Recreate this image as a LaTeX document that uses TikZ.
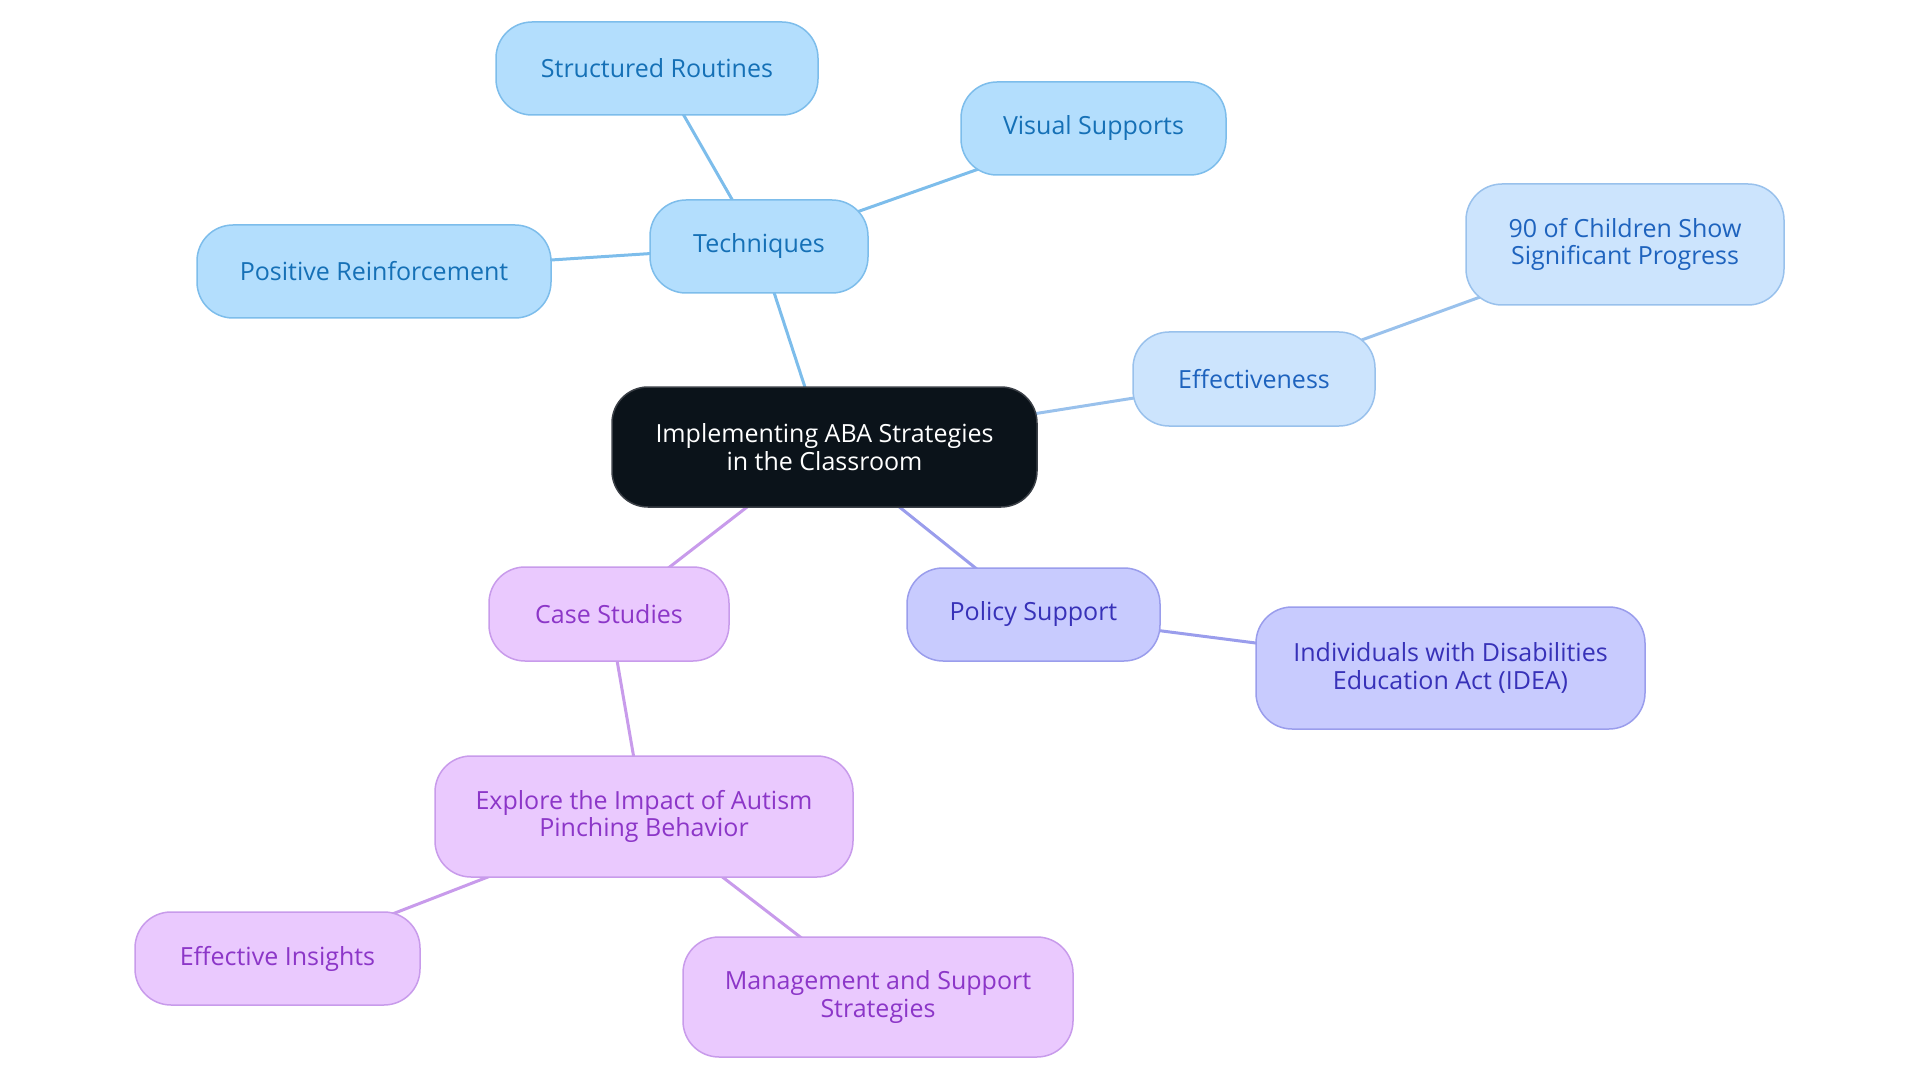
\documentclass[tikz,border=0pt]{standalone}
\usepackage{fontspec}
\setmainfont{Open Sans}
\usetikzlibrary{backgrounds}
\definecolor{bfill}{HTML}{B3DEFD}
\definecolor{bdraw}{HTML}{7DBDEB}
\definecolor{btext}{HTML}{1570B6}
\definecolor{efill}{HTML}{CCE4FD}
\definecolor{edraw}{HTML}{99C1EC}
\definecolor{etext}{HTML}{1E63BE}
\definecolor{pfill}{HTML}{C8CBFE}
\definecolor{pdraw}{HTML}{9A9DEC}
\definecolor{ptext}{HTML}{3731B8}
\definecolor{cfill}{HTML}{EAC9FE}
\definecolor{cdraw}{HTML}{C89BEB}
\definecolor{ctext}{HTML}{8C36C8}
\definecolor{mfill}{HTML}{0B131A}
\definecolor{mdraw}{HTML}{3A3F46}
\tikzset{
  box/.style={rectangle, rounded corners=36pt, line width=1.5pt, align=center,
    inner sep=0pt, font=\fontsize{25}{27.5}\selectfont},
  bluebox/.style={box, fill=bfill, draw=bdraw, text=btext},
  effbox/.style={box, fill=efill, draw=edraw, text=etext},
  polbox/.style={box, fill=pfill, draw=pdraw, text=ptext},
  casebox/.style={box, fill=cfill, draw=cdraw, text=ctext},
  mainbox/.style={box, fill=mfill, draw=mdraw, text=white},
  link/.style={line width=3pt},
}
\begin{document}
\begin{tikzpicture}[x=1pt,y=-1pt]
\useasboundingbox (0,0) rectangle (1920,1083);
\node[mainbox, minimum width=425pt, minimum height=120pt] (m) at (824.5,447) {Implementing ABA Strategies\\in the Classroom};
\node[bluebox, minimum width=218pt, minimum height=93pt] (tech) at (759,246.5) {Techniques};
\node[bluebox, minimum width=322pt, minimum height=93pt] (sr) at (657,68.5) {Structured Routines};
\node[bluebox, minimum width=265pt, minimum height=93pt] (vs) at (1093.5,128.5) {Visual Supports};
\node[bluebox, minimum width=354pt, minimum height=93pt] (pr) at (374,271.5) {Positive Reinforcement};
\node[effbox, minimum width=242pt, minimum height=94pt] (eff) at (1254,379) {Effectiveness};
\node[effbox, minimum width=318pt, minimum height=121pt] (ninety) at (1625,244.5) {90 of Children Show\\Significant Progress};
\node[polbox, minimum width=253pt, minimum height=93pt] (pol) at (1033.5,614.5) {Policy Support};
\node[polbox, minimum width=389pt, minimum height=122pt] (idea) at (1450.5,668) {Individuals with Disabilities\\Education Act (IDEA)};
\node[casebox, minimum width=240pt, minimum height=94pt] (cs) at (609,614) {Case Studies};
\node[casebox, minimum width=418pt, minimum height=121pt] (exp) at (644,816.5) {Explore the Impact of Autism\\Pinching Behavior};
\node[casebox, minimum width=285pt, minimum height=93pt] (ei) at (277.5,958.5) {Effective Insights};
\node[casebox, minimum width=390pt, minimum height=120pt] (mss) at (878,997) {Management and Support\\Strategies};
\begin{pgfonlayer}{background}
\draw[link, bdraw] (m.center) -- (tech.center);
\draw[link, bdraw] (tech.center) -- (sr.center);
\draw[link, bdraw] (tech.center) -- (vs.center);
\draw[link, bdraw] (tech.center) -- (pr.center);
\draw[link, edraw] (m.center) -- (eff.center);
\draw[link, edraw] (eff.center) -- (ninety.center);
\draw[link, pdraw] (m.center) -- (pol.center);
\draw[link, pdraw] (pol.center) -- (idea.center);
\draw[link, cdraw] (m.center) -- (cs.center);
\draw[link, cdraw] (cs.center) -- (exp.center);
\draw[link, cdraw] (exp.center) -- (ei.center);
\draw[link, cdraw] (exp.center) -- (mss.center);
\end{pgfonlayer}
\end{tikzpicture}
\end{document}
